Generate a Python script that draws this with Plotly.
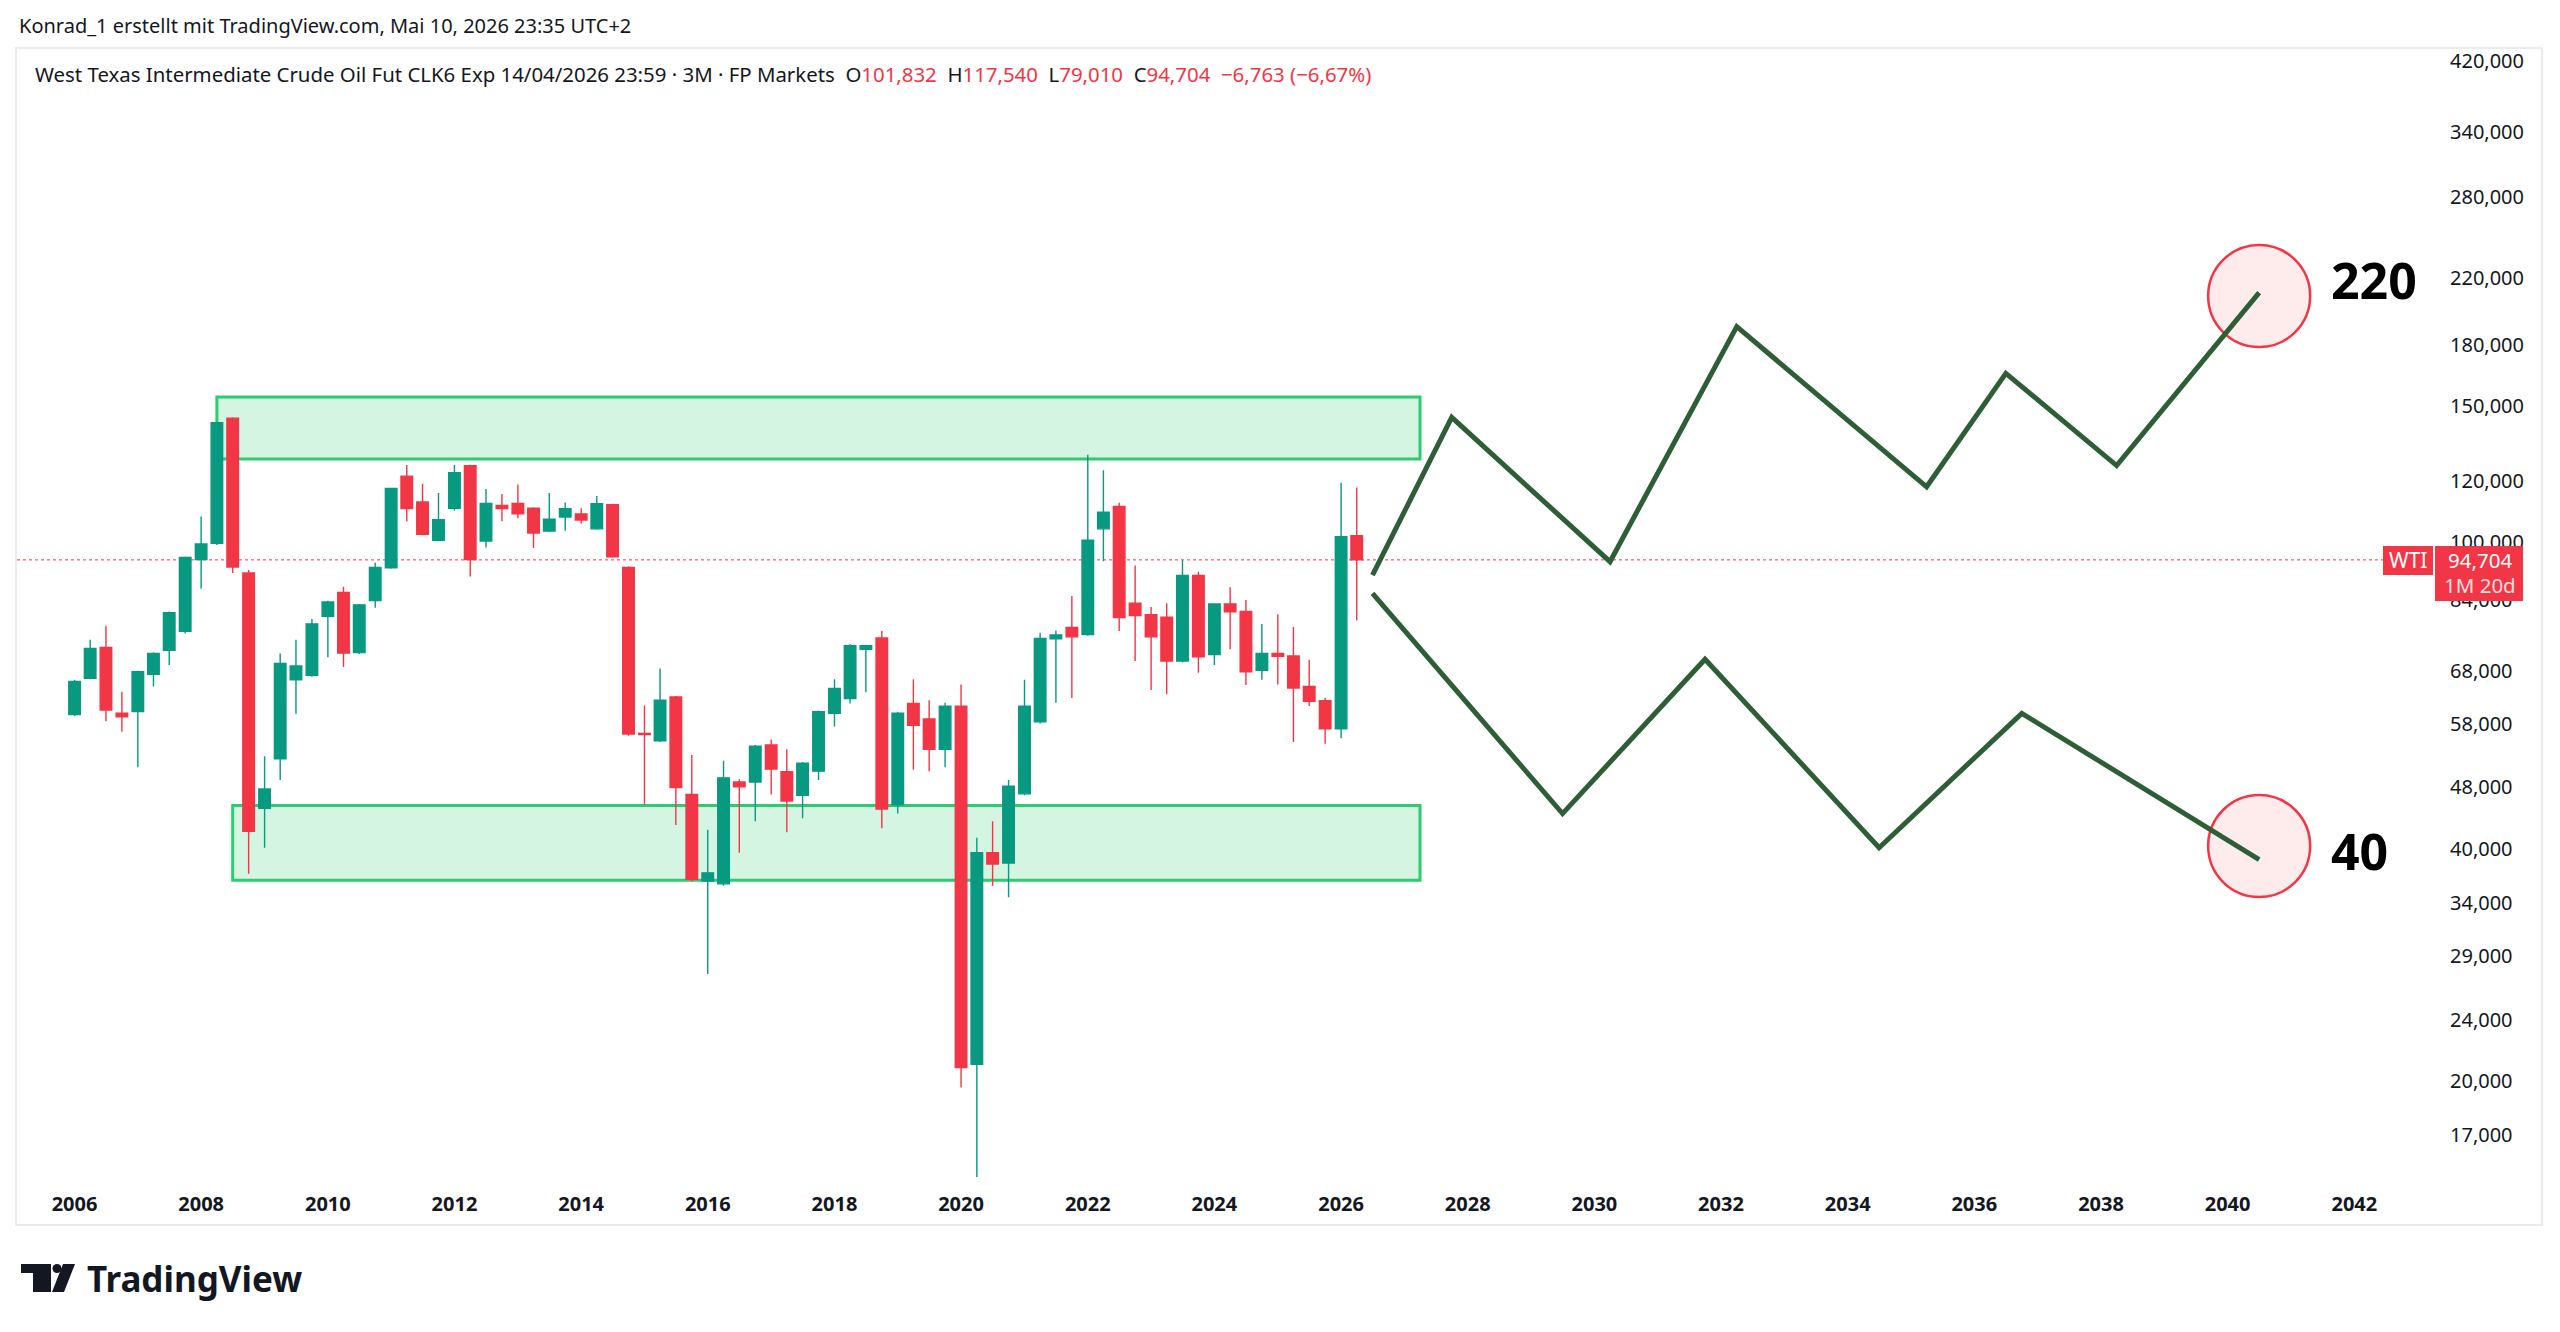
import numpy as np
import pandas as pd
import plotly.graph_objects as go

# ---------------- data (quarterly candles, WTI CLK6, 3M) ----------------
first_quarter = "2006-01-01"
opens = [59.7, 66.5, 72.9, 59.9, 60.2, 67.3, 72.3, 76.5, 94.8, 99.5,
         144.6, 91.1, 45.1, 52.3, 66.2, 67.1, 80.0, 85.9, 71.8, 83.9,
         92.5, 121.6, 112.6, 100.4, 110.5, 125.5, 100.2, 111.4, 112.1, 110.5,
         103.2, 107.6, 108.6, 103.9, 111.7, 92.6, 56.4, 55.2, 62.9, 47.0,
         36.3, 36.0, 48.8, 48.8, 54.5, 50.3, 46.9, 50.4, 59.9, 62.6,
         72.5, 75.0, 45.6, 61.7, 58.9, 53.8, 61.2, 21.0, 39.5, 38.3,
         47.1, 58.4, 74.8, 77.4, 75.8, 103.9, 111.1, 83.2, 80.4, 79.8,
         70.0, 90.4, 71.4, 83.0, 81.2, 68.1, 71.6, 71.1, 64.9, 62.2,
         57.2, 101.832]
highs = [66.2, 74.6, 77.8, 63.9, 68.0, 71.9, 81.2, 95.7, 107.8, 143.0,
         145.0, 91.9, 52.7, 71.6, 74.6, 79.4, 83.8, 87.4, 83.0, 93.9,
         117.5, 125.7, 118.9, 115.6, 125.7, 125.8, 117.0, 115.3, 118.6, 110.8,
         115.6, 112.4, 110.5, 114.6, 112.0, 92.9, 61.3, 68.5, 63.1, 52.9,
         42.3, 52.0, 49.2, 54.5, 55.4, 53.8, 51.8, 60.4, 66.3, 73.6,
         73.5, 76.6, 60.2, 66.3, 62.3, 61.8, 65.3, 41.3, 43.4, 49.1,
         66.2, 76.2, 76.7, 85.0, 129.6, 123.8, 112.3, 93.1, 82.3, 83.2,
         94.6, 91.4, 83.2, 87.3, 84.0, 78.2, 80.5, 77.5, 70.3, 62.7,
         119.2, 117.540]
lows = [59.4, 66.3, 58.5, 56.7, 51.0, 64.9, 69.2, 76.0, 86.9, 99.0,
        91.1, 37.1, 40.1, 49.1, 59.8, 66.8, 70.8, 68.8, 71.5, 82.1,
        92.2, 106.2, 101.9, 100.1, 109.7, 90.1, 98.3, 106.3, 107.2, 98.1,
        102.9, 103.3, 105.6, 103.6, 95.3, 56.0, 45.6, 55.0, 42.9, 36.3,
        27.5, 35.8, 39.5, 43.4, 47.0, 42.0, 43.8, 49.1, 57.6, 61.7,
        63.8, 42.5, 44.4, 50.6, 50.4, 51.0, 19.6, 15.0, 35.8, 34.6,
        46.9, 58.1, 61.8, 62.7, 75.5, 94.3, 76.6, 70.0, 64.2, 63.4,
        69.7, 67.6, 69.2, 72.5, 65.2, 66.2, 65.3, 55.0, 61.2, 54.7,
        55.6, 79.010]
closes = [65.9, 72.7, 60.5, 59.3, 67.8, 71.6, 80.9, 95.4, 99.3, 142.6,
          92.7, 42.1, 47.8, 69.5, 69.0, 78.2, 83.5, 71.7, 82.8, 92.6,
          117.2, 110.4, 102.2, 106.8, 122.9, 94.8, 112.1, 110.4, 108.7, 102.6,
          106.9, 110.3, 106.7, 112.0, 95.6, 56.3, 56.2, 62.3, 48.0, 36.5,
          37.2, 49.4, 48.1, 54.3, 50.7, 46.1, 51.6, 60.2, 64.5, 73.3,
          73.3, 45.0, 59.9, 57.8, 53.8, 61.2, 20.8, 39.5, 38.2, 48.2,
          61.2, 74.9, 75.7, 75.3, 100.4, 109.2, 79.7, 80.2, 75.3, 70.0,
          90.4, 70.9, 83.0, 81.1, 67.8, 71.6, 71.0, 64.6, 62.1, 57.2,
          101.467, 94.704]

# drawn zones (rectangles)
upper_zone_dates = ["2008-04-01", "2027-04-01"]
upper_zone_prices = [128.0, 154.0]
lower_zone_dates = ["2008-07-01", "2027-04-01"]
lower_zone_prices = [36.4, 45.5]

# scenario zig-zag paths
bull_dates = ["2026-07-01", "2027-10-01", "2030-04-01", "2032-04-01",
              "2035-04-01", "2036-07-01", "2038-04-01", "2040-07-01"]
bull_prices = [90.5, 144.9, 94.2, 190.0, 117.8, 165.3, 125.5, 210.3]
bear_dates = ["2026-07-01", "2029-07-01", "2031-10-01", "2034-07-01",
              "2036-10-01", "2040-07-01"]
bear_prices = [85.7, 44.4, 70.4, 40.1, 59.9, 38.7]

# target circles and labels
target_dates = ["2040-07-01", "2040-07-01"]
target_circle_prices = [208.2, 40.3]
target_labels = [220, 40]

y_ticks = [420, 340, 280, 220, 180, 150, 120, 100, 84, 68, 58, 48, 40, 34,
           29, 24, 20, 17]

header_text = "Konrad_1 erstellt mit TradingView.com, Mai 10, 2026 23:35 UTC+2"
symbol_text = ("West Texas Intermediate Crude Oil Fut CLK6 Exp 14/04/2026 23:59"
               " · 3M · FP Markets")
bar_countdown = "1M 20d"

# ---------------- helpers ----------------
GREEN = "#089981"
RED = "#f23645"
TXT = "#131722"
FONT = "Noto Sans"


def de(v):
    return f"{v:.3f}".replace(".", ",")


def signed(v, fmt):
    s = format(abs(v), fmt).replace(".", ",")
    return ("−" if v < 0 else "+") + s


dates = pd.date_range(first_quarter, periods=len(opens), freq="QS")

# layout geometry (pixels of the 2560x1332 page)
PL, PR, PT, PB = 17, 2440, 49, 1180
Y_LO, Y_HI = np.log10(14.87), np.log10(435.3)


def px(X):
    return (X - PL) / (PR - PL)


def py(Y):
    return (PB - Y) / (PB - PT)


fig = go.Figure()

fig.add_trace(go.Candlestick(
    x=dates, open=opens, high=highs, low=lows, close=closes,
    increasing=dict(line=dict(color=GREEN, width=1.4), fillcolor=GREEN),
    decreasing=dict(line=dict(color=RED, width=1.4), fillcolor=RED),
    whiskerwidth=0, hoverinfo="skip"))

# target circles
fig.add_trace(go.Scatter(
    x=target_dates, y=target_circle_prices, mode="markers",
    marker=dict(size=102, color="rgba(242,54,69,0.10)",
                line=dict(color=RED, width=2.5)),
    hoverinfo="skip"))

for d, p in ((bull_dates, bull_prices), (bear_dates, bear_prices)):
    fig.add_trace(go.Scatter(x=d, y=p, mode="lines",
                             line=dict(color="#2e5e35", width=5),
                             hoverinfo="skip"))

shapes = []
for zd, zp in ((upper_zone_dates, upper_zone_prices),
               (lower_zone_dates, lower_zone_prices)):
    shapes.append(dict(type="rect", xref="x", yref="y", layer="below",
                       x0=zd[0], x1=zd[1], y0=zp[0], y1=zp[1],
                       fillcolor="rgba(46,204,113,0.2)",
                       line=dict(color="rgb(46,204,113)", width=3)))

last_close = closes[-1]
# paper position of the last price (for the price tags)
yc = (np.log10(last_close) - Y_LO) / (Y_HI - Y_LO)
ph = PB - PT

# dotted last-price line
shapes.append(dict(type="line", xref="paper", yref="y", x0=0, x1=px(2383),
                   y0=last_close, y1=last_close, layer="below",
                   line=dict(color=RED, width=1, dash="dot")))
# price tags
shapes.append(dict(type="rect", xref="paper", yref="paper",
                   x0=px(2383), x1=px(2433),
                   y0=yc - 15 / ph, y1=yc + 14 / ph,
                   fillcolor=RED, line=dict(width=0)))
shapes.append(dict(type="rect", xref="paper", yref="paper",
                   x0=px(2435), x1=px(2523),
                   y0=yc - 41 / ph, y1=yc + 14 / ph,
                   fillcolor=RED, line=dict(width=0)))
# outer chart frame
shapes.append(dict(type="rect", xref="paper", yref="paper",
                   x0=px(16), x1=px(2542), y0=py(1225), y1=py(48),
                   line=dict(color="#ebebeb", width=2), layer="below"))
# TradingView logo glyph
shapes.append(dict(type="rect", xref="paper", yref="paper",
                   x0=px(21), x1=px(51), y0=py(1273), y1=py(1264),
                   fillcolor=TXT, line=dict(width=0)))
shapes.append(dict(type="rect", xref="paper", yref="paper",
                   x0=px(33), x1=px(51), y0=py(1292), y1=py(1264),
                   fillcolor=TXT, line=dict(width=0)))
shapes.append(dict(type="circle", xref="paper", yref="paper",
                   x0=px(52.5), x1=px(61.5), y0=py(1273), y1=py(1264),
                   fillcolor=TXT, line=dict(width=0)))
shapes.append(dict(type="path", xref="paper", yref="paper",
                   path=(f"M {px(63)},{py(1264)} L {px(75)},{py(1264)} "
                         f"L {px(64)},{py(1292)} L {px(52)},{py(1292)} Z"),
                   fillcolor=TXT, line=dict(width=0)))

# ---------------- annotations ----------------
chg = closes[-1] - closes[-2]
pct = chg / closes[-2] * 100
R = lambda s: f"<span style='color:{RED}'>{s}</span>"
nb = "\u00a0"
legend_html = (symbol_text + nb * 2 +
               "O" + R(de(opens[-1])) + nb * 2 +
               "H" + R(de(highs[-1])) + nb * 2 +
               "L" + R(de(lows[-1])) + nb * 2 +
               "C" + R(de(closes[-1])) + nb * 2 +
               R(signed(chg, ".3f") + " (" + signed(pct, ".2f") + "%)"))

ann = []
ann.append(dict(text=header_text, xref="paper", yref="paper", x=px(17),
                y=py(26), xanchor="left", yanchor="middle", showarrow=False,
                font=dict(size=20, color=TXT, family=FONT)))
ann.append(dict(text=legend_html, xref="paper", yref="paper", x=px(33),
                y=py(74), xanchor="left", yanchor="middle", showarrow=False,
                font=dict(size=20.4, color=TXT, family=FONT)))
ann.append(dict(text="TradingView", xref="paper", yref="paper", x=px(85),
                y=py(1278), xanchor="left", yanchor="middle", showarrow=False,
                font=dict(size=35, color=TXT, family=FONT, weight="bold")))
for d, lab in zip(target_dates, target_labels):
    ann.append(dict(text=str(lab), xref="x", yref="y", x=d,
                    y=np.log10(lab), xanchor="left", yanchor="middle",
                    xshift=70, yshift=-2, showarrow=False,
                    font=dict(size=50, color="#000000", family=FONT,
                              weight="bold")))
ann.append(dict(text="WTI", xref="paper", yref="paper", x=px(2408),
                y=yc, xanchor="center", yanchor="middle", showarrow=False,
                font=dict(size=21, color="white", family=FONT)))
ann.append(dict(text=de(last_close), xref="paper", yref="paper", x=px(2480),
                y=yc, xanchor="center", yanchor="middle", showarrow=False,
                font=dict(size=20.5, color="white", family=FONT)))
ann.append(dict(text=bar_countdown, xref="paper", yref="paper", x=px(2480),
                y=yc - 25 / ph, xanchor="center", yanchor="middle",
                showarrow=False,
                font=dict(size=20.5, color="rgba(255,255,255,0.85)",
                          family=FONT)))

fig.update_layout(
    width=2560, height=1332, autosize=False,
    margin=dict(l=PL, r=2560 - PR, t=PT, b=1332 - PB),
    paper_bgcolor="white", plot_bgcolor="white",
    showlegend=False, hovermode=False,
    boxgap=0.26, boxgroupgap=0,
    font=dict(family=FONT, color=TXT),
    shapes=shapes, annotations=ann,
    xaxis=dict(type="date", range=["2005-02-03", "2043-05-10"],
               tick0="2006-01-01", dtick="M24", tickformat="%Y",
               showgrid=False, zeroline=False, showline=False, ticks="",
               ticklabelstandoff=10,
               tickfont=dict(size=20, color=TXT, family=FONT, weight="bold"),
               rangeslider=dict(visible=False), fixedrange=True),
    yaxis=dict(type="log", side="right",
               range=[Y_LO, Y_HI],
               tickvals=y_ticks, ticktext=[de(v) for v in y_ticks],
               showgrid=False, zeroline=False, showline=False, ticks="",
               ticklabelstandoff=9,
               tickfont=dict(size=20, color=TXT, family=FONT),
               fixedrange=True),
)

fig.write_html("out.html")
